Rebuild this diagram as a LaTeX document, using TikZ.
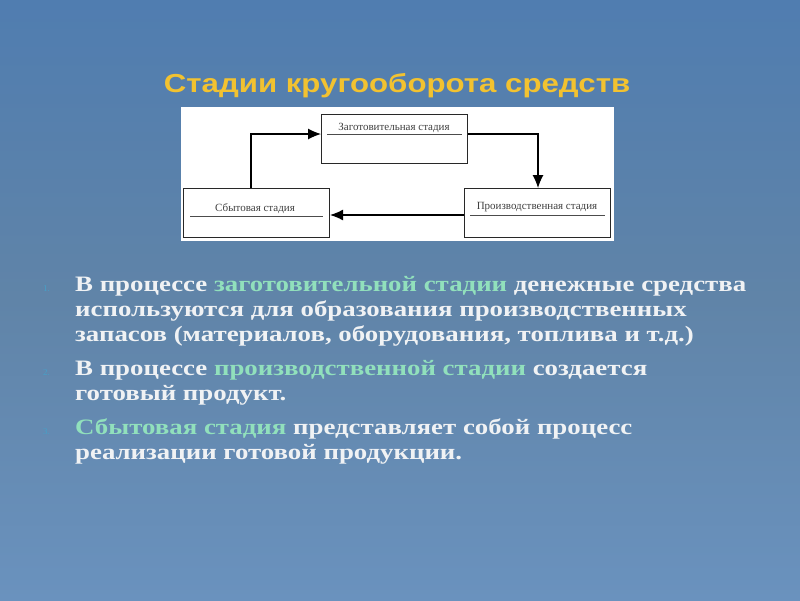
\documentclass[tikz,border=0pt]{standalone}
\usepackage{fontspec}
\setmainfont{Liberation Serif}
\newfontfamily\titlefont[FakeStretch=1.2]{Liberation Sans}
\newfontfamily\bodyfont[FakeStretch=1.22]{Liberation Serif}
\usetikzlibrary{arrows.meta}
\definecolor{bgtop}{RGB}{80,125,176}
\definecolor{bgmid}{RGB}{96,132,168}
\definecolor{bgbot}{RGB}{106,146,190}
\definecolor{titlegold}{RGB}{242,194,48}
\definecolor{bodywhite}{RGB}{240,242,244}
\definecolor{hlgreen}{RGB}{145,224,188}
\definecolor{numcol}{RGB}{70,160,200}
\definecolor{boxline}{RGB}{40,40,40}
\tikzset{
  stagebox/.style={draw=boxline, line width=1.1pt, minimum width=146pt, minimum height=49pt, inner sep=0pt},
  stagetext/.style={font=\fontsize{11}{12}\selectfont, text=black!75, inner sep=0pt, anchor=base},
  flow/.style={draw=black, line width=1.1pt, -{Latex[length=13pt,width=11pt]}},
  bodyline/.style={anchor=base west, inner sep=0pt, text=bodywhite, font=\bodyfont\bfseries\fontsize{22}{25}\selectfont},
  numtext/.style={anchor=base west, inner sep=0pt, text=numcol, font=\fontsize{9}{10}\selectfont}
}
\newcommand{\hl}[1]{\textcolor{hlgreen}{#1}}
\begin{document}
\begin{tikzpicture}[x=1pt,y=-1pt]
\useasboundingbox (0,0) rectangle (800,600);
\shade[top color=bgtop, bottom color=bgbot, middle color=bgmid] (0,0) rectangle (800,600);
% title
\node[anchor=base, inner sep=0pt, text=titlegold, font=\titlefont\bfseries\fontsize{26}{30}\selectfont] (title) at (397,92) {Стадии кругооборота средств};
% diagram panel
\node[fill=white, draw=none, minimum width=433pt, minimum height=134pt, inner sep=0pt, anchor=north west] (panel) at (181,107) {};
\node[stagebox, anchor=north west] (zag) at (321,114) {};
\node[stagebox, anchor=north west] (sbyt) at (183,188) {};
\node[stagebox, anchor=north west] (proizv) at (464,188) {};
\node[stagetext] (zagt) at (394,130) {Заготовительная стадия};
\node[stagetext] (sbytt) at (255,211) {Сбытовая стадия};
\node[stagetext] (proizvt) at (537,209) {Производственная стадия};
\coordinate (zagA) at (327,134); \coordinate (zagB) at (462,134);
\coordinate (sbytA) at (190,216); \coordinate (sbytB) at (323,216);
\coordinate (proA) at (470,215); \coordinate (proB) at (605,215);
\draw[black!70, line width=0.6pt] (zagA) -- (zagB);
\draw[black!70, line width=0.6pt] (sbytA) -- (sbytB);
\draw[black!70, line width=0.6pt] (proA) -- (proB);
\coordinate (c1) at (251,134);
\coordinate (c2) at (538,134);
\draw[flow] (sbyt.north -| c1) -- (c1) -- (zag.west |- c1);
\draw[flow] (zag.east |- c2) -- (c2) -- (proizv.north -| c2);
\draw[flow] (proizv.west |- proA) -- (sbyt.east |- proA);
% body
\node[numtext] (n1) at (43,291) {1.};
\node[bodyline] (l1) at (75,291) {В процессе \hl{заготовительной стадии} денежные средства};
\node[bodyline] (l2) at (75,316) {используются для образования производственных};
\node[bodyline] (l3) at (75,341) {запасов (материалов, оборудования, топлива и т.д.)};
\node[numtext] (n2) at (43,375) {2.};
\node[bodyline] (l4) at (75,375) {В процессе \hl{производственной стадии} создается};
\node[bodyline] (l5) at (75,400) {готовый продукт.};
\node[numtext] (n3) at (43,434) {3.};
\node[bodyline] (l6) at (75,434) {\hl{Сбытовая стадия} представляет собой процесс};
\node[bodyline] (l7) at (75,459) {реализации готовой продукции.};
\end{tikzpicture}
\end{document}
